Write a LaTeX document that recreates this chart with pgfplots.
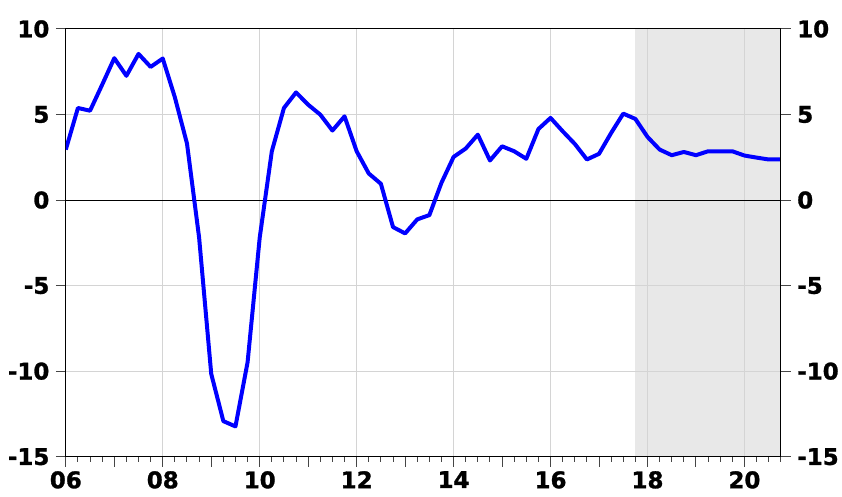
\documentclass[border=0pt]{standalone}
\usepackage{pgfplots}
\pgfplotsset{compat=1.18}
\usepackage{fontspec}
\setmainfont{DejaVu Sans}
\newfontfamily\tickfont{DejaVu Sans Bold}[FakeBold=1.3]
\definecolor{lineblue}{RGB}{0,0,255}
\definecolor{shadec}{RGB}{232,232,232}
\definecolor{gridc}{RGB}{212,212,212}
\definecolor{tickc}{RGB}{70,70,70}
\pgfplotstableread{
x y
2006.00 2.95
2006.25 5.38
2006.50 5.22
2006.75 6.74
2007.00 8.29
2007.25 7.26
2007.50 8.54
2007.75 7.78
2008.00 8.27
2008.25 6.00
2008.50 3.30
2008.75 -2.20
2009.00 -10.16
2009.25 -12.92
2009.50 -13.23
2009.75 -9.48
2010.00 -2.20
2010.25 2.85
2010.50 5.38
2010.75 6.29
2011.00 5.57
2011.25 4.99
2011.50 4.06
2011.75 4.89
2012.00 2.85
2012.25 1.55
2012.50 0.95
2012.75 -1.58
2013.00 -1.95
2013.25 -1.13
2013.50 -0.88
2013.75 1.01
2014.00 2.52
2014.25 3.01
2014.50 3.82
2014.75 2.31
2015.00 3.14
2015.25 2.85
2015.50 2.41
2015.75 4.15
2016.00 4.80
2016.25 4.02
2016.50 3.28
2016.75 2.37
2017.00 2.70
2017.25 3.92
2017.50 5.05
2017.75 4.74
2018.00 3.69
2018.25 2.95
2018.50 2.62
2018.75 2.81
2019.00 2.62
2019.25 2.85
2019.50 2.85
2019.75 2.85
2020.00 2.60
2020.25 2.48
2020.50 2.37
2020.75 2.37
}\gdpdata
\begin{document}
\begin{tikzpicture}
\pgfplotsset{
  common/.style={
    width=717pt, height=429pt, scale only axis,
    xmin=2006, xmax=2020.75, ymin=-15, ymax=10,
    ytick={-15,-10,-5,0,5,10},
    yticklabels={-15,-10,-5,0,5,10},
    tick align=outside,
    major tick length=10pt, minor tick length=5pt,
    tick style={tickc, line width=1pt},
    ticklabel style={font=\tickfont\fontsize{23}{24}\selectfont},
    axis line style={black, line width=1.1pt},
    scaled x ticks=false,
  }
}
\begin{axis}[common, set layers,
  xtick={2006,2008,...,2020},
  xticklabels={06,08,10,12,14,16,18,20},
  minor xtick={2006.25,2006.5,...,2020.75},
  extra x ticks={2007,2009,...,2019},
  extra x tick labels={},
  extra x tick style={grid=none, major tick length=10pt},
  xmajorgrids, ymajorgrids,
  major grid style={gridc, line width=0.9pt},
  xtick pos=bottom, ytick pos=left,
  yticklabel style={xshift=-3pt},
  xticklabel style={yshift=-1pt},
]
\begin{pgfonlayer}{axis background}
\fill[shadec] (axis cs:2017.75,-15) rectangle (axis cs:2020.75,10);
\end{pgfonlayer}
\draw[black, line width=0.9pt] (axis cs:2006,0) -- (axis cs:2020.75,0);
\addplot[lineblue, line width=4pt, line join=round] table[x=x,y=y] {\gdpdata};
\end{axis}
\begin{axis}[common,
  axis x line=none,
  axis y line*=right,
  yticklabel pos=right,
  ytick pos=right,
  yticklabel style={xshift=3pt},
]
\addplot[draw=none] coordinates {(2006,0)};
\end{axis}
\path (-66pt,-40pt) rectangle (776pt,458pt);
\end{tikzpicture}
\end{document}
